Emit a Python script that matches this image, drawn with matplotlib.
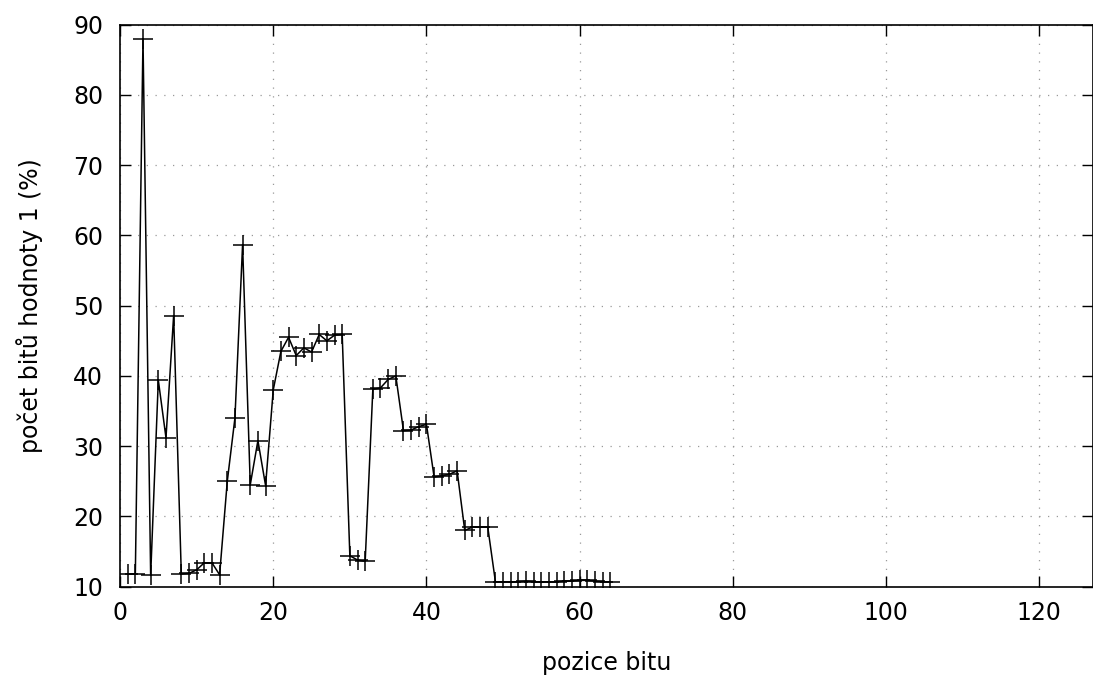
import matplotlib
matplotlib.use("Agg")
import matplotlib.pyplot as plt

# pozice bitu 1..64 a podil jednicek (%)
pozice = list(range(1, 65))
procenta = [
    11.8, 11.8, 88.0, 11.6, 39.4, 31.2, 48.6, 11.8, 11.9, 12.4,
    13.4, 13.4, 11.7, 25.0, 34.0, 58.7, 24.5, 30.8, 24.4, 38.0,
    43.5, 45.5, 42.9, 44.0, 43.4, 45.9, 45.0, 45.8, 45.9, 14.4,
    13.8, 13.6, 38.1, 38.3, 39.5, 40.0, 32.2, 32.3, 32.8, 33.1,
    25.6, 25.8, 26.0, 26.5, 18.0, 18.5, 18.5, 18.5, 10.7, 10.7,
    10.7, 10.7, 10.8, 10.7, 10.7, 10.7, 10.7, 10.8, 10.8, 10.9,
    10.9, 10.8, 10.7, 10.7,
]

x_ticks = [0, 20, 40, 60, 80, 100, 120]
y_ticks = [10, 20, 30, 40, 50, 60, 70, 80, 90]

fig = plt.figure(figsize=(10.93, 6.76), dpi=100)
ax = fig.add_axes([0.1098, 0.1321, 0.8902, 0.8314])

ax.plot(pozice, procenta, color="black", lw=1.1, marker="+",
        markersize=15, markeredgewidth=1.1)

ax.set_xlim(0, 127)
ax.set_ylim(10, 90)
ax.set_xticks(x_ticks)
ax.set_yticks(y_ticks)

ax.grid(True, color="#999999", linestyle=(0, (1, 6)), linewidth=0.9)
ax.tick_params(direction="in", length=8, width=1.0, top=True, right=True,
               labelsize=17)
ax.tick_params(axis="y", pad=12)
ax.tick_params(axis="x", pad=10)
for s in ax.spines.values():
    s.set_linewidth(1.2)

ax.set_xlabel("pozice bitu", fontsize=17, labelpad=19)
ax.set_ylabel("počet bitů hodnoty 1 (%)", fontsize=17, labelpad=22)

fig.savefig("out.png", dpi=100)
